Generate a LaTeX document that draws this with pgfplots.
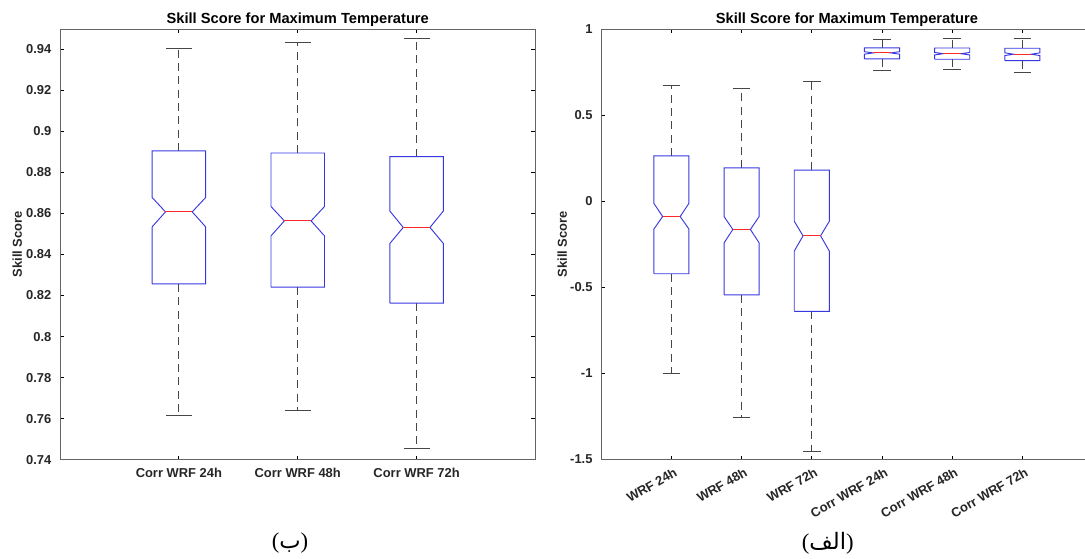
\documentclass[border=0pt]{standalone}
\usepackage{fontspec}
\usepackage{pgfplots}
\usepackage{pgfplotstable}
\pgfplotsset{compat=1.18}
\setmainfont{Liberation Sans}
\newfontfamily\seriffont{Liberation Serif}
\newfontfamily\arabicfont[Script=Arabic]{DejaVu Sans}
\TeXXeTstate=1

\definecolor{mlblue}{RGB}{55,55,225}
\definecolor{mlred}{RGB}{255,40,40}
\definecolor{mlaxis}{RGB}{100,100,100}
\definecolor{mltext}{RGB}{38,38,38}
\definecolor{mlwhisk}{RGB}{70,70,70}

% box statistics: whiskers, quartiles, median and notch limits
\pgfplotstableread{
pos lw     q1     nlo    med    nhi    q3     uw
1   0.7616 0.8257 0.8535 0.8608 0.8678 0.8905 0.9403
2   0.7639 0.8241 0.8491 0.8564 0.8634 0.8895 0.9432
3   0.7452 0.8163 0.8454 0.8532 0.8612 0.8877 0.9455
}\corrdata
\pgfplotstableread{
pos lw     q1     nlo    med    nhi    q3     uw
1   -1.000 -0.421 -0.162 -0.089 -0.012 0.263  0.673
2   -1.255 -0.544 -0.242 -0.164 -0.089 0.193  0.652
3   -1.455 -0.640 -0.290 -0.201 -0.116 0.180  0.694
4   0.7616 0.8257 0.8535 0.8608 0.8678 0.8905 0.9403
5   0.7639 0.8241 0.8491 0.8564 0.8634 0.8895 0.9432
6   0.7452 0.8163 0.8454 0.8532 0.8612 0.8877 0.9455
}\alldata

\pgfplotsset{
  boxline/.style={mlblue, line width=0.7pt},
  medline/.style={mlred, line width=0.85pt},
  whiskline/.style={mlwhisk, line width=0.7pt, dash pattern=on 6pt off 4pt},
  capline/.style={mlwhisk, line width=0.7pt},
}

% #1 table, #2 row, #3 half box width, #4 half cap width
\newcommand\notchbox[4]{%
  \pgfplotstablegetelem{#2}{pos}\of#1\let\bPos\pgfplotsretval
  \pgfplotstablegetelem{#2}{lw}\of#1\let\bLw\pgfplotsretval
  \pgfplotstablegetelem{#2}{q1}\of#1\let\bQa\pgfplotsretval
  \pgfplotstablegetelem{#2}{nlo}\of#1\let\bNlo\pgfplotsretval
  \pgfplotstablegetelem{#2}{med}\of#1\let\bMed\pgfplotsretval
  \pgfplotstablegetelem{#2}{nhi}\of#1\let\bNhi\pgfplotsretval
  \pgfplotstablegetelem{#2}{q3}\of#1\let\bQc\pgfplotsretval
  \pgfplotstablegetelem{#2}{uw}\of#1\let\bUw\pgfplotsretval
  \pgfmathsetmacro\bXl{\bPos-#3}\pgfmathsetmacro\bXr{\bPos+#3}%
  \pgfmathsetmacro\bNl{\bPos-#3/2}\pgfmathsetmacro\bNr{\bPos+#3/2}%
  \pgfmathsetmacro\bCl{\bPos-#4}\pgfmathsetmacro\bCr{\bPos+#4}%
  \edef\bTmp{%
    \noexpand\addplot[whiskline] coordinates {(\bPos,\bQc) (\bPos,\bUw)};
    \noexpand\addplot[whiskline] coordinates {(\bPos,\bQa) (\bPos,\bLw)};
    \noexpand\addplot[capline] coordinates {(\bCl,\bUw) (\bCr,\bUw)};
    \noexpand\addplot[capline] coordinates {(\bCl,\bLw) (\bCr,\bLw)};
    \noexpand\addplot[boxline] coordinates {(\bXl,\bQa) (\bXl,\bNlo) (\bNl,\bMed) (\bXl,\bNhi)
      (\bXl,\bQc) (\bXr,\bQc) (\bXr,\bNhi) (\bNr,\bMed) (\bXr,\bNlo) (\bXr,\bQa) (\bXl,\bQa)};
    \noexpand\addplot[medline] coordinates {(\bNl,\bMed) (\bNr,\bMed)};
  }\bTmp
}

\pgfplotsset{
  mlaxis/.style={
    scale only axis, anchor=south west,
    axis line style={mlaxis, line width=0.6pt},
    every tick/.style={mlaxis, line width=0.6pt},
    major tick length=3pt, tick align=inside,
    tick label style={text=mltext, font=\bfseries\fontsize{9.7}{11}\selectfont},
    yticklabel style={xshift=-1.5pt},
    /pgf/number format/assume math mode=true,
    /pgf/number format/fixed, /pgf/number format/precision=2,
    title style={font=\bfseries\fontsize{11}{13}\selectfont, text=black,
      inner sep=2pt, at={(0.5,1)}, anchor=south, yshift=-6.75pt},
    title={Skill Score for Maximum Temperature},
    ylabel={Skill Score},
    label style={text=mltext, font=\bfseries\fontsize{9.7}{11}\selectfont},
  },
}

\begin{document}
\begin{tikzpicture}
\useasboundingbox (0,0) rectangle (813.75pt,418.5pt);

% left panel
\begin{axis}[mlaxis,
  at={(45pt,73.8pt)}, width=356.6pt, height=323pt,
  xmin=0, xmax=4, ymin=0.74, ymax=0.95,
  xtick={1,2,3}, xticklabels={Corr WRF 24h, Corr WRF 48h, Corr WRF 72h},
  xticklabel style={yshift=-2.8pt},
  ytick={0.74,0.76,0.78,0.8,0.82,0.84,0.86,0.88,0.9,0.92,0.94},
  ylabel style={at={(axis description cs:-0.0897,0.5)}, anchor=center},
]
\pgfplotsinvokeforeach{0,1,2}{\notchbox{\corrdata}{#1}{0.225}{0.11}}
\end{axis}

% right panel (cut at the right edge, as in the source figure)
\begin{axis}[mlaxis,
  at={(450.9pt,73.8pt)}, width=368.55pt, height=323pt,
  xmin=0, xmax=7, ymin=-1.5, ymax=1,
  xtick={1,...,6},
  xticklabels={WRF 24h, WRF 48h, WRF 72h, Corr WRF 24h, Corr WRF 48h, Corr WRF 72h},
  xticklabel style={rotate=30, anchor=north east, yshift=-2pt, xshift=2pt},
  ytick={-1.5,-1,-0.5,0,0.5,1},
  ylabel style={at={(axis description cs:-0.0795,0.5)}, anchor=center},
]
\pgfplotsinvokeforeach{0,...,5}{\notchbox{\alldata}{#1}{0.25}{0.125}}
\end{axis}

\node[font=\fontsize{17}{19}\selectfont] at (217.5pt,11pt)
  {\seriffont(\arabicfont\beginR ب\endR\seriffont)};
\node[font=\fontsize{17}{19}\selectfont] at (620.8pt,11pt)
  {\seriffont(\arabicfont\beginR الف\endR\seriffont)};
\end{tikzpicture}
\end{document}
